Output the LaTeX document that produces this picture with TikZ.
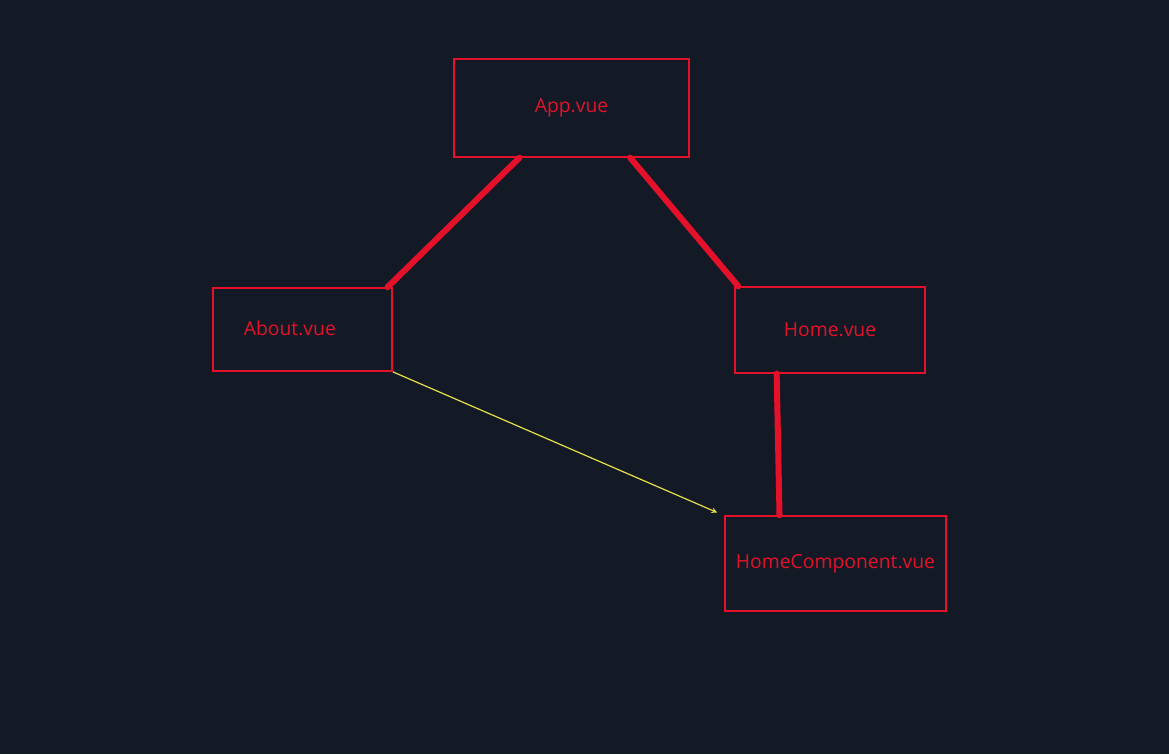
\documentclass[tikz,border=0pt]{standalone}
\usepackage{fontspec}
\setmainfont{Open Sans}
\usepackage{tikz}
\usetikzlibrary{calc, positioning, arrows}
\definecolor{fond}{HTML}{131A26}
\definecolor{rouge}{HTML}{E5112A}
\definecolor{jaune}{HTML}{E8E04A}

\begin{document}
\begin{tikzpicture}[x=0.75pt, y=-0.75pt]
		\tikzstyle{boite}=[draw=rouge, line width=1.5pt, text=rouge, font=\fontsize{14.5}{17}\selectfont, inner sep=0pt]
		\tikzstyle{lien}=[draw=rouge, line width=4.5pt, line cap=round]
		\tikzstyle{fleche}=[->,>=stealth, draw=jaune, line width=0.9pt]
		\fill[color=fond] (0,0) rectangle (1169,754);
		\useasboundingbox (0,0) rectangle (1169,754);

		\node[boite, minimum width=176pt, minimum height=73pt] (app) at (571.5,108) {\raisebox{-2pt}{App.vue}};
		\node[boite, minimum width=134pt, minimum height=62pt] (about) at (302.5,329.5) {\raisebox{2pt}{About.vue}\hspace*{19pt}};
		\node[boite, minimum width=142pt, minimum height=64pt] (home) at (830,330) {Home.vue};
		\node[boite, minimum width=166pt, minimum height=71pt] (homecomp) at (835.5,563.5) {HomeComponent.vue};

		\draw[lien] ([xshift=-39pt]app.south) -- ([xshift=-4pt]about.north east);
		\draw[lien] ([xshift=44pt]app.south) -- ([xshift=3pt]home.north west);
		\draw[lien] ([xshift=-40pt]home.south) -- ([xshift=-42pt]homecomp.north);
		\draw[fleche] (about.south east) -- ([xshift=-5pt,yshift=2pt]homecomp.north west);
	\end{tikzpicture}
\end{document}
